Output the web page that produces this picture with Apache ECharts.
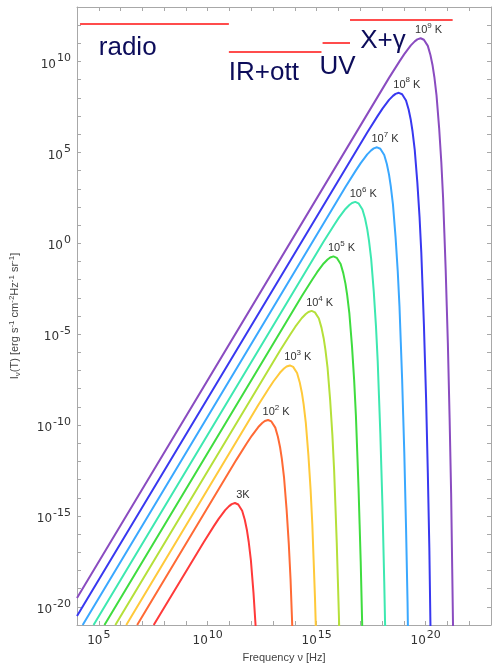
<!DOCTYPE html>
<html>
<head>
<meta charset="UTF-8">
<title>Planck</title>
<script src="https://cdn.jsdelivr.net/npm/echarts@6/dist/echarts.min.js"></script>
<style>
  html, body { margin: 0; padding: 0; background: #fff; }
  #main { width: 500px; height: 668px; }
</style>
</head>
<body>
<div id="main"></div>
<script>
// every point is [log10 frequency (Hz), log10 intensity]
var curve3 = [[7.52,-21],[9.80,-16.47],[10.28,-15.56],[10.50,-15.16],[10.80,-14.68],[10.98,-14.46],[11.10,-14.35],[11.25,-14.29],[11.40,-14.37],[11.58,-14.71],[11.70,-15.21],[11.80,-15.79],[11.88,-16.42],[11.98,-17.43],[12.10,-19.23],[12.20,-21.11]];
var curve1e2 = [[6.76,-21],[11.32,-11.90],[11.80,-10.99],[12.02,-10.59],[12.32,-10.11],[12.50,-9.89],[12.62,-9.78],[12.77,-9.72],[12.92,-9.80],[13.10,-10.14],[13.22,-10.64],[13.32,-11.22],[13.40,-11.85],[13.50,-12.86],[13.62,-14.66],[13.72,-16.54],[13.80,-18.47],[13.86,-20.44],[13.92,-22.44]];
var curve1e3 = [[6.26,-21],[12.32,-8.90],[12.80,-7.99],[13.02,-7.59],[13.32,-7.11],[13.50,-6.89],[13.62,-6.78],[13.77,-6.72],[13.92,-6.80],[14.10,-7.14],[14.22,-7.64],[14.32,-8.22],[14.40,-8.85],[14.50,-9.86],[14.62,-11.66],[14.72,-13.54],[14.80,-15.47],[14.86,-17.44],[14.92,-19.44],[14.97,-21.46]];
var curve1e4 = [[5.76,-21],[13.32,-5.90],[13.80,-4.99],[14.02,-4.59],[14.32,-4.11],[14.50,-3.89],[14.62,-3.78],[14.77,-3.72],[14.92,-3.80],[15.10,-4.14],[15.22,-4.64],[15.32,-5.22],[15.40,-5.85],[15.50,-6.86],[15.62,-8.66],[15.72,-10.54],[15.80,-12.47],[15.86,-14.44],[15.92,-16.44],[15.97,-18.46],[16.02,-20.49],[16.10,-24.60]];
var curve1e5 = [[5.26,-21],[14.32,-2.90],[14.80,-1.99],[15.02,-1.59],[15.32,-1.11],[15.50,-0.89],[15.62,-0.78],[15.77,-0.72],[15.92,-0.80],[16.10,-1.14],[16.22,-1.64],[16.32,-2.22],[16.40,-2.85],[16.50,-3.86],[16.62,-5.66],[16.72,-7.54],[16.80,-9.47],[16.86,-11.44],[16.92,-13.44],[16.97,-15.46],[17.02,-17.49],[17.10,-21.60]];
var curve1e6 = [[4.76,-21],[15.32,0.10],[15.80,1.01],[16.02,1.41],[16.32,1.89],[16.50,2.11],[16.62,2.22],[16.77,2.28],[16.92,2.20],[17.10,1.86],[17.22,1.36],[17.32,0.78],[17.40,0.15],[17.50,-0.86],[17.62,-2.66],[17.72,-4.54],[17.80,-6.47],[17.86,-8.44],[17.92,-10.44],[17.97,-12.46],[18.02,-14.49],[18.10,-18.60],[18.17,-22.74]];
var curve1e7 = [[4.26,-21],[16.32,3.10],[16.80,4.01],[17.02,4.41],[17.32,4.89],[17.50,5.11],[17.62,5.22],[17.77,5.28],[17.92,5.20],[18.10,4.86],[18.22,4.36],[18.32,3.78],[18.40,3.15],[18.50,2.14],[18.62,0.34],[18.72,-1.54],[18.80,-3.47],[18.86,-5.44],[18.92,-7.44],[18.97,-9.46],[19.02,-11.49],[19.10,-15.60],[19.17,-19.74],[19.22,-23.91]];
var curve1e8 = [[4,-20.51],[17.32,6.10],[17.80,7.01],[18.02,7.41],[18.32,7.89],[18.50,8.11],[18.62,8.22],[18.77,8.28],[18.92,8.20],[19.10,7.86],[19.22,7.36],[19.32,6.78],[19.40,6.15],[19.50,5.14],[19.62,3.34],[19.72,1.46],[19.80,-0.47],[19.86,-2.44],[19.92,-4.44],[19.97,-6.46],[20.02,-8.49],[20.10,-12.60],[20.17,-16.74],[20.22,-20.91],[20.32,-29.30]];
var curve1e9 = [[4,-19.51],[18.32,9.10],[18.80,10.01],[19.02,10.41],[19.32,10.89],[19.50,11.11],[19.62,11.22],[19.77,11.28],[19.92,11.20],[20.10,10.86],[20.22,10.36],[20.32,9.78],[20.40,9.15],[20.50,8.14],[20.62,6.34],[20.72,4.46],[20.80,2.53],[20.86,0.56],[20.92,-1.44],[20.97,-3.46],[21.02,-5.49],[21.10,-9.60],[21.17,-13.74],[21.22,-17.91],[21.32,-26.30]];

var curves = [curve3, curve1e2, curve1e3, curve1e4, curve1e5, curve1e6, curve1e7, curve1e8, curve1e9];
var tempBase = ['3', '10', '10', '10', '10', '10', '10', '10', '10'];
var tempExp = ['', '2', '3', '4', '5', '6', '7', '8', '9'];
var colors = ['#ff3a3a', '#ff6a35', '#ffc93a', '#b5e03a', '#3fdc3f', '#3de8b0', '#3aa8ff', '#3838f0', '#8a4cc0'];

// spectral bands (log10 frequency range, level)
var bandNames = ['radio', 'IR+ott', 'UV', 'X+\u03b3'];
var bandFrom = [4.14, 10.97, 15.27, 16.53];
var bandTo = [10.97, 15.22, 16.53, 21.24];
var bandLevel = [12.07, 10.53, 11.02, 12.29];
var bandTextPos = [[5.0, 10.76], [10.97, 9.39], [15.13, 9.72], [17.0, 11.14]];

var myChart = echarts.init(document.getElementById('main'));

function tickLabel(v) {
	if (v % 5 !== 0) return '';
	return '{b|10}{e|' + v + '}';
}
var tickRich = {
	b: { fontSize: 12, color: '#333', padding: [6, 1, 0, 0], fontFamily: 'DejaVu Sans' },
	e: { fontSize: 11, color: '#333', padding: [0, 0, 6, 0], fontFamily: 'DejaVu Sans' }
};
var axisGray = '#a8a8a8';

var series = [];
curves.forEach(function(c, i) {
	var peak = c[0];
	c.forEach(function(p) { if (p[1] > peak[1]) peak = p; });
	series.push({
		type: 'line',
		data: c,
		showSymbol: false,
		smooth: false,
		clip: true,
		lineStyle: { color: colors[i], width: 2 },
		itemStyle: { color: colors[i] },
		z: 3,
		markPoint: {
			symbol: 'circle',
			symbolSize: 1,
			itemStyle: { color: 'rgba(0,0,0,0)' },
			label: {
				show: true,
				position: 'top',
				distance: 2,
				offset: [8, 0],
				formatter: tempExp[i] ? '{n|' + tempBase[i] + '}{s|' + tempExp[i] + '}{n| K}' : '{n|' + tempBase[i] + 'K}',
				rich: {
					n: { fontSize: 11, color: '#333', padding: [4, 0, 0, 0], fontFamily: 'Liberation Sans' },
					s: { fontSize: 8, color: '#333', padding: [0, 0, 5, 0], fontFamily: 'Liberation Sans' }
				}
			},
			data: [{ coord: peak }]
		}
	});
});

bandNames.forEach(function(name, i) {
	series.push({
		type: 'line',
		data: [[bandFrom[i], bandLevel[i]], [bandTo[i], bandLevel[i]]],
		showSymbol: false,
		lineStyle: { color: '#ff1010', width: 1.5 },
		z: 4
	});
});
series.push({
	type: 'scatter',
	symbolSize: 0,
	itemStyle: { color: '#0c0c5a', opacity: 1 },
	data: bandTextPos.map(function(p, i) { return { value: p, name: bandNames[i] }; }),
	label: {
		show: true,
		position: 'right',
		distance: 0,
		formatter: '{b}',
		fontSize: 26,
		color: '#0c0c5a',
		textBorderWidth: 0,
		fontFamily: 'Liberation Sans'
	},
	z: 5
});

var option = {
	animation: false,
	grid: { left: 71, right: 9, top: 7, bottom: 42 },
	xAxis: [{
		type: 'value',
		min: 4,
		max: 23,
		interval: 1,
		name: 'Frequency \u03bd [Hz]',
		nameLocation: 'middle',
		nameGap: 27,
		nameTextStyle: { fontSize: 11, color: '#444', fontFamily: 'Liberation Sans' },
		axisLine: { onZero: false, lineStyle: { color: axisGray } },
		axisTick: { inside: true, length: 4, lineStyle: { color: axisGray } },
		axisLabel: { formatter: tickLabel, rich: tickRich, margin: 4 },
		splitLine: { show: false }
	}, {
		type: 'value',
		position: 'top',
		min: 4,
		max: 23,
		interval: 1,
		axisLine: { onZero: false, lineStyle: { color: axisGray } },
		axisTick: { inside: true, length: 4, lineStyle: { color: axisGray } },
		axisLabel: { show: false },
		splitLine: { show: false }
	}],
	yAxis: [{
		type: 'value',
		min: -21,
		max: 13,
		interval: 1,
		name: '{t|I}{u|\u03bd}{t|(T) [erg s}{p|-1}{t| cm}{p|-2}{t|Hz}{p|-1}{t| sr}{p|-1}{t|]}',
		nameLocation: 'middle',
		nameRotate: 90,
		nameGap: 55,
		nameTextStyle: {
			rich: {
				t: { fontSize: 11, color: '#444', fontFamily: 'Liberation Sans' },
				u: { fontSize: 8, color: '#444', padding: [5, 0, 0, 0], fontFamily: 'Liberation Sans' },
				p: { fontSize: 8, color: '#444', padding: [0, 0, 6, 0], fontFamily: 'Liberation Sans' }
			}
		},
		axisLine: { onZero: false, lineStyle: { color: axisGray } },
		axisTick: { inside: true, length: 4, lineStyle: { color: axisGray } },
		axisLabel: { formatter: tickLabel, rich: tickRich, margin: 6 },
		splitLine: { show: false }
	}, {
		type: 'value',
		position: 'right',
		min: -21,
		max: 13,
		interval: 1,
		axisLine: { show: true, onZero: false, lineStyle: { color: axisGray } },
		axisTick: { show: true, inside: true, length: 4, lineStyle: { color: axisGray } },
		axisLabel: { show: false },
		splitLine: { show: false }
	}],
	series: series
};
myChart.setOption(option);
</script>
</body>
</html>
